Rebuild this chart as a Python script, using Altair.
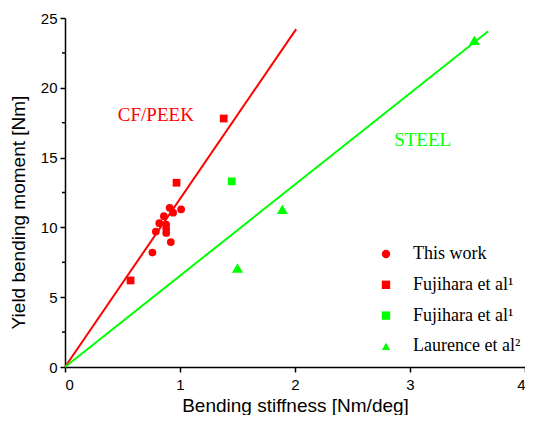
import altair as alt
import pandas as pd

# ---- data ----
series_order = ["This work", "Fujihara et al¹|cf", "Fujihara et al¹|steel", "Laurence et al²"]
series_colors = ["#FF0000", "#FF0000", "#00FF00", "#00FF00"]
series_shapes = ["circle", "square", "square", "triangle-up"]

this_x = [0.91, 1.01, 0.94, 0.86, 0.82, 0.88, 0.88, 0.88, 0.79, 0.92, 0.76]
this_y = [11.4, 11.3, 11.05, 10.8, 10.3, 10.2, 9.9, 9.6, 9.7, 8.95, 8.2]
fuj_cf_x = [0.57, 0.97, 1.38]
fuj_cf_y = [6.2, 13.2, 17.8]
fuj_steel_x = [1.45]
fuj_steel_y = [13.3]
laur_x = [1.5, 1.89, 3.56]
laur_y = [7.1, 11.3, 23.4]

cf_line_x = [0, 2.01]
cf_line_y = [0, 24.2]
steel_line_x = [0, 3.68]
steel_line_y = [0, 24.05]

x_ticks = [0, 1, 2, 3, 4]
y_ticks = [0, 5, 10, 15, 20, 25]
y_minor = [2.5, 7.5, 12.5, 17.5, 22.5]

ann_cf = {"label": ["CF/PEEK"], "x": [0.79], "y": [18.05]}
ann_steel = {"label": ["STEEL"], "x": [3.11], "y": [16.26]}

# ---- tables ----
rows = []
for s, xs, ys in [(series_order[0], this_x, this_y),
                  (series_order[1], fuj_cf_x, fuj_cf_y),
                  (series_order[2], fuj_steel_x, fuj_steel_y),
                  (series_order[3], laur_x, laur_y)]:
    for a, b in zip(xs, ys):
        rows.append({"series": s, "x": a, "y": b})
pts = pd.DataFrame(rows)
cf_df = pd.DataFrame({"x": cf_line_x, "y": cf_line_y})
steel_df = pd.DataFrame({"x": steel_line_x, "y": steel_line_y})
minor_df = pd.DataFrame({"y": y_minor})

xscale = alt.Scale(domain=[0, 4], nice=False)
yscale = alt.Scale(domain=[0, 25], nice=False)

X = alt.X("x:Q", scale=xscale,
          axis=alt.Axis(values=x_ticks, format="d", title="Bending stiffness [Nm/deg]",
                        titleY=44, titleBaseline="alphabetic", labelPadding=5))
Y = alt.Y("y:Q", scale=yscale,
          axis=alt.Axis(values=y_ticks, format="d", title="Yield bending moment [Nm]",
                        titleX=-37, titleY=194, labelPadding=3))

line_cf = alt.Chart(cf_df).mark_line(color="#FF0000", strokeWidth=2).encode(x=X, y=Y)
line_steel = alt.Chart(steel_df).mark_line(color="#00FF00", strokeWidth=2).encode(x=X, y=Y)

points = alt.Chart(pts).mark_point(filled=True, opacity=1).encode(
    x=X, y=Y,
    color=alt.Color("series:N", scale=alt.Scale(domain=series_order, range=series_colors),
                    legend=alt.Legend(title=None, orient="none", legendX=312, legendY=227,
                                      labelExpr="split(datum.label, '|')[0]")),
    shape=alt.Shape("series:N", scale=alt.Scale(domain=series_order, range=series_shapes)),
    size=alt.condition(alt.datum.series == series_order[3], alt.value(120), alt.value(60)),
)

minor = alt.Chart(minor_df).mark_rule(color="black", strokeWidth=1.5).encode(
    y=alt.Y("y:Q", scale=yscale), x=alt.value(-3), x2=alt.value(0))

txt_cf = alt.Chart(pd.DataFrame(ann_cf)).mark_text(
    font="Liberation Serif", fontSize=19, color="#FF0000").encode(x=X, y=Y, text="label:N")
txt_steel = alt.Chart(pd.DataFrame(ann_steel)).mark_text(
    font="Liberation Serif", fontSize=19, color="#00FF00").encode(x=X, y=Y, text="label:N")

chart = alt.layer(line_cf, line_steel, minor, points, txt_cf, txt_steel).properties(
    width=460, height=349,
    autosize=alt.AutoSizeParams(type="none"),
    padding={"left": 57, "top": 10, "right": 0, "bottom": 48},
).configure_view(stroke=None).configure_axis(
    grid=False, domainColor="black", domainWidth=1.5, tickColor="black", tickWidth=1.5,
    tickSize=5, labelFont="Liberation Sans", labelFontSize=15, labelColor="black",
    titleFont="Liberation Sans", titleFontSize=19, titleFontWeight="normal", titleColor="black",
).configure_legend(
    labelFont="Liberation Serif", labelFontSize=18, labelColor="black", symbolSize=70,
    symbolStrokeWidth=0, rowPadding=12.8, labelOffset=18, padding=0,
)

chart.save("out.html", embed_options={"renderer": "svg", "actions": False})
